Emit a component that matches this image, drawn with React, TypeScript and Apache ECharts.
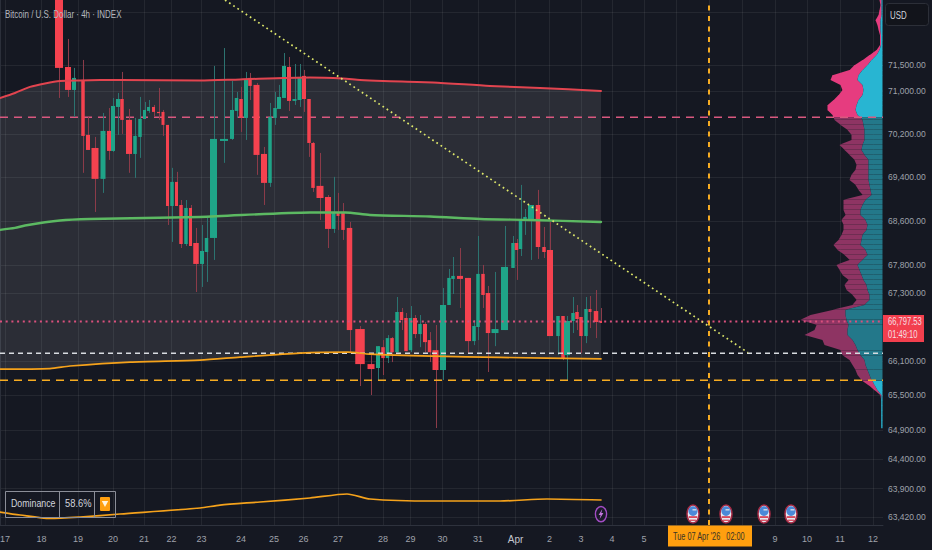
import React, { useEffect, useRef } from "react";
import * as echarts from "echarts";

const title = "Bitcoin / U.S. Dollar · 4h · INDEX";
const uiFont = "'Liberation Sans',sans-serif";

// Time scale (this chart's candles have uneven widths, so the scale runs on cumulative span units)
const scaleEnd = 883;
const dayTicks = [5, 41.5, 78, 113, 144, 171.5, 201.5, 241, 274, 303.5, 338, 383, 410.5, 442.5, 478, 515.5, 549.5, 581, 612, 644, 676, 709, 742, 775, 807, 840, 873];
const dayLabels = ["17", "18", "19", "20", "21", "22", "23", "24", "25", "26", "27", "28", "29", "30", "31", "Apr", "2", "3", "4", "5", "", "", "", "9", "10", "11", "12"];

// Price scale (logarithmic)
const priceMin = 63287;
const priceMax = 72744;
const priceGridLines = [72500, 71500, 71000, 70200, 69400, 68600, 67800, 67300, 66100, 65500, 64900, 64400, 63900, 63420];
const priceLabels = [71500, 71000, 70200, 69400, 68600, 67800, 67300, 66100, 65500, 64900, 64400, 63900, 63420];

// Candles
const candleTimes = [59, 68, 74, 83, 88, 95, 103, 109, 113, 118, 122, 129, 135, 140, 144.5, 148.5, 153.5, 158.5, 163, 167.5, 172, 176.5, 181, 186, 190.5, 196, 202, 206.5, 213.5, 224, 232, 236.5, 241, 246, 250, 256.5, 264, 270, 275, 279, 284, 289, 294.5, 299.5, 304, 309, 313, 320, 328, 333.5, 338, 343, 349.5, 360, 371, 378, 383, 387.5, 392, 397, 401.5, 406, 410.5, 415, 420, 425, 429.5, 435.5, 443, 449, 453, 460, 468, 474, 478, 483, 488, 495, 504.5, 513, 516.5, 520.5, 525, 531, 538, 544, 550, 558, 563, 567, 573, 577, 581, 586, 590, 596, 601];
const candleSpans = [8, 6, 4, 3.5, 4, 7, 5, 4, 4, 4, 3.5, 6, 3.5, 3.5, 3, 3, 3, 3, 3, 3, 3.5, 3, 3.5, 3.5, 3, 5.5, 4, 3.5, 7, 8, 4, 3.5, 3.5, 4, 3.5, 6, 6, 3.5, 3.5, 4, 4, 4, 4, 4, 4, 3.5, 3.5, 7, 6, 4, 3, 3.5, 5.5, 9.5, 7, 4, 3.5, 3.5, 3.5, 3.5, 3.5, 3.5, 3.5, 4, 3.5, 4, 3.5, 6, 6, 3.5, 3.5, 6, 6, 3.5, 3.5, 3.5, 4.5, 7, 7, 3.5, 3.5, 3.5, 3.5, 6, 4.5, 3.5, 6, 3.5, 3.5, 6, 3.5, 3.5, 3.5, 3.5, 3, 4.5, 2];
const candleOpens = [73500, 71463, 71029, 71218, 70187, 69944, 69373, 70261, 69889, 70709, 70859, 70467, 69833, 70149, 70485, 70634, 70709, 70616, 70616, 70373, 68876, 69317, 68894, 68185, 68840, 68203, 67825, 68040, 68294, 70074, 70112, 70634, 70859, 70504, 71256, 71124, 69833, 69299, 70504, 70672, 70878, 71464, 70822, 70840, 71294, 70859, 70037, 69244, 69040, 68458, 68767, 68748, 68476, 66664, 66047, 65978, 66344, 66152, 66504, 66256, 66966, 66859, 66291, 66859, 66575, 66753, 66469, 66291, 65943, 67090, 67556, 67610, 67574, 66451, 66700, 67646, 67304, 66593, 66646, 67753, 68203, 68094, 68621, 68639, 68894, 68130, 68076, 66540, 66895, 66204, 66806, 66966, 66877, 66540, 67019, 66983, 66806];
const candleCloses = [71445, 71029, 71256, 70168, 69907, 69373, 70261, 69889, 70728, 70859, 70467, 69833, 70168, 70485, 70653, 70709, 70616, 70597, 70373, 68876, 69317, 68876, 68185, 68840, 68149, 67825, 68058, 68294, 70112, 70112, 70653, 70878, 70504, 71237, 71105, 69815, 69299, 70523, 70690, 70897, 71483, 70822, 70859, 71275, 70859, 70037, 69207, 69022, 68458, 68767, 68694, 68440, 66646, 66047, 65960, 66362, 66152, 66504, 66256, 66966, 66824, 66274, 66859, 66575, 66753, 66433, 66256, 65943, 67090, 67574, 67610, 67556, 66451, 66717, 67646, 67269, 66593, 66664, 67771, 68203, 68076, 68639, 68676, 68894, 68130, 68040, 66540, 66895, 66152, 66806, 66948, 66841, 66540, 67019, 66966, 66788, 66771];
const candleLows = [70878, 70897, 70523, 69484, 69907, 68767, 69115, 69723, 69870, 70187, 70205, 69484, 69391, 69760, 70485, 70597, 70523, 70467, 70168, 68530, 68222, 68876, 68112, 68149, 68149, 67322, 67412, 67502, 67897, 69668, 70093, 70504, 70242, 70093, 70840, 69447, 68894, 69225, 70373, 70672, 70878, 70634, 70747, 70709, 70616, 69778, 69133, 68621, 68112, 68385, 68440, 68258, 66239, 65664, 65507, 65751, 65855, 66065, 66082, 66256, 66646, 66274, 66256, 66504, 66344, 66256, 66082, 64936, 65768, 67090, 67286, 67037, 66239, 66380, 66469, 67037, 65908, 66362, 66646, 67753, 67538, 67968, 68349, 67897, 67915, 67932, 66540, 66204, 66117, 65768, 66593, 66646, 66239, 66415, 66682, 66504, 66771];
const candleHighs = [74000, 71996, 71445, 71596, 70523, 70149, 70597, 70690, 70878, 70972, 71369, 70672, 70504, 70897, 70803, 70840, 70747, 71067, 70653, 70373, 69576, 69502, 68985, 68985, 68894, 68476, 68530, 68658, 71483, 71823, 71199, 70991, 71086, 71369, 71350, 71161, 69963, 70784, 70991, 71124, 71728, 71653, 71520, 71520, 71407, 70859, 70056, 69852, 69077, 69410, 69115, 68930, 68585, 66717, 66204, 66362, 66469, 66557, 66522, 67233, 67037, 66948, 67072, 66912, 66912, 66788, 66610, 66735, 67394, 67735, 67950, 68112, 67574, 66824, 68330, 67807, 67430, 67681, 68512, 68330, 68276, 69262, 68821, 68894, 69170, 68494, 68585, 66895, 66895, 66895, 67233, 67090, 66877, 67233, 67251, 67358, 67037];

// Moving bands
const upperTimes = [0, 15, 30, 45, 60, 80, 120, 200, 240, 310, 343, 360, 383, 433, 490, 540, 601];
const upperPrices = [70878, 70972, 71086, 71152, 71199, 71209, 71218, 71205, 71228, 71265, 71246, 71218, 71199, 71171, 71105, 71067, 71010];
const middleTimes = [0, 15, 25, 60, 90, 200, 310, 345, 370, 430, 480, 530, 601];
const middlePrices = [68440, 68476, 68521, 68612, 68639, 68676, 68758, 68758, 68712, 68685, 68639, 68621, 68585];
const lowerTimes = [0, 50, 70, 130, 200, 240, 300, 348, 370, 433, 500, 601];
const lowerPrices = [65960, 65969, 66013, 66082, 66117, 66169, 66239, 66256, 66221, 66187, 66164, 66140];
const dominanceTimes = [0, 20, 50, 80, 120, 200, 220, 260, 310, 347, 370, 433, 500, 547, 601];
const dominancePrices = [63505, 63455, 63396, 63421, 63472, 63573, 63623, 63674, 63742, 63810, 63725, 63691, 63691, 63725, 63708];

// Horizontal levels
const valueAreaHigh = 70514;
const lastPrice = 66797.53;
const pocPrice = 66239;
const valueAreaLow = 65765;
const trendTimes = [225, 748];
const trendPrices = [72744, 66248];

// Events
const cursorTime = 709;
const eventLevel = 63470;
const flagTimes = [693, 726, 764, 791];
const flashTimes = [601];

// Volume profile, one row per price level
const profileLevels = [72744, 72648, 72552, 72456, 72360, 72264, 72169, 72073, 71977, 71881, 71785, 71690, 71596, 71500, 71407, 71312, 71218, 71124, 71029, 70935, 70840, 70747, 70653, 70560, 70514, 70467, 70373, 70280, 70187, 70093, 70000, 69907, 69815, 69723, 69631, 69539, 69447, 69354, 69262, 69170, 69077, 68985, 68894, 68803, 68712, 68621, 68530, 68440, 68349, 68258, 68167, 68076, 67987, 67897, 67807, 67717, 67628, 67538, 67448, 67358, 67269, 67179, 67090, 67001, 66912, 66824, 66735, 66646, 66557, 66469, 66380, 66291, 66204, 66117, 66030, 65943, 65855, 65768, 65751, 65681, 65594, 65507, 65420, 65333, 65247, 65160, 65074, 64987, 64936];
const profileTotal = [3, 2, 3, 4, 7, 5, 4, 2.5, 2.5, 2.5, 6, 13, 20, 28, 33, 50, 52, 42, 40, 44, 49, 55, 55, 50, 49, 48, 42, 35, 31, 31, 43, 38, 33, 28, 26, 27, 31, 33, 27, 24, 20, 39, 39, 39, 37, 41, 39, 39, 41, 44, 49, 45, 38, 33, 46, 43, 40, 34, 38, 36, 30, 26, 30, 50, 72, 82, 66, 68, 78, 60, 58, 42, 40, 33, 30, 27, 25, 21, 20, 14, 8, 2, 1.3, 1.3, 1.3, 1.3, 1.3, 1.3, 1.3];
const profileUp = [1, 1, 1, 1, 2, 2, 2, 1.5, 1.5, 1.5, 3, 6, 11, 15, 20, 24, 25, 20, 19, 20, 24, 26, 27, 25, 22, 20, 19, 18, 18, 18, 20, 21, 18, 14, 14, 14, 14, 14, 13, 12, 11, 17, 20, 22, 22, 17, 15, 16, 20, 21, 22, 17, 15, 20, 25, 23, 21, 19, 16, 15, 13, 13, 18, 37, 37, 36, 34, 35, 35, 30, 27, 25, 22, 18, 17, 15, 13, 11, 10, 8, 5, 1, 1.3, 1.3, 1.3, 1.3, 1.3, 1.3, 1.3];

const toY = (p: number) => Math.log(p);
const zip = (xs: number[], ps: number[]) => xs.map((x, i) => [x, toY(ps[i])]);
const fmtPrice = (v: number) => {
  const r = Math.round(Math.exp(v) / 10) * 10;
  return r.toLocaleString("en-US") + ".00";
};

const C = {
  bg: "#151822",
  grid: "rgba(255,255,255,0.065)",
  up: "#1fa488",
  down: "#f5424f",
  upWick: "#2c7370",
  downWick: "#8b3b49",
  axisText: "#9fa2ab",
  orange: "#f5a21b",
};

const levelLine = (name: string, price: number, color: string, dash: number[], width: number, z: number) => ({
  type: "line", name, z, silent: true, symbol: "none",
  data: [[0, toY(price)], [scaleEnd, toY(price)]],
  lineStyle: { color, width, type: dash, cap: "butt" },
});

const curve = (name: string, xs: number[], ps: number[], color: string, width: number, z: number) => ({
  type: "line", name, z, silent: true, symbol: "none", smooth: 0.25, data: zip(xs, ps),
  lineStyle: { color, width, cap: "round", join: "round" },
});

const label = (x: number, y: number, text: string, fill: string, fontSize: number, scaleX: number) => ({
  type: "text", z: 101, x, y, scaleX, style: { text, fill, fontSize, fontFamily: uiFont },
});

function buildOption(): any {
  const candles = candleTimes.map((t, i) => [t, candleSpans[i], toY(candleOpens[i]), toY(candleCloses[i]), toY(candleLows[i]), toY(candleHighs[i])]);
  const last = profileLevels.length - 1;
  const profile = profileLevels.slice(0, last).map((l, i) => [toY(l), profileTotal[i], profileUp[i], toY(profileLevels[i + 1]), l, profileTotal[i + 1], profileUp[i + 1]]);
  return {
    animation: false,
    backgroundColor: C.bg,
    grid: { left: 0, right: 932 - scaleEnd, top: 0, bottom: 25, outerBoundsMode: "none" },
    textStyle: { fontFamily: uiFont },
    xAxis: {
      type: "value", min: 0, max: scaleEnd,
      axisLine: { show: true, lineStyle: { color: "#2e323d" } },
      axisTick: { show: false, customValues: dayTicks },
      splitLine: { show: true, lineStyle: { color: C.grid, width: 1 } },
      axisLabel: {
        customValues: dayTicks, margin: 9, fontSize: 9, color: C.axisText, fontFamily: uiFont, hideOverlap: false, showMinLabel: true, showMaxLabel: true,
        formatter: (v: number) => {
          const lab = dayLabels[dayTicks.indexOf(v)] ?? "";
          return lab === "Apr" ? "{b|Apr}" : lab;
        },
        rich: { b: { fontSize: 10, color: "#c3c6ce", fontFamily: uiFont } },
      },
    },
    yAxis: {
      type: "value", position: "right", min: toY(priceMin), max: toY(priceMax),
      axisLine: { show: true, lineStyle: { color: "#2b2f3a" } },
      axisTick: { show: false, customValues: priceGridLines.map(toY) },
      splitLine: { show: true, lineStyle: { color: C.grid, width: 1 } },
      axisLabel: { customValues: priceLabels.map(toY), margin: 5, fontSize: 8.5, color: C.axisText, fontFamily: uiFont, formatter: fmtPrice, showMinLabel: true, showMaxLabel: true },
    },
    graphic: [
      label(5, 9, title, "#b4b7bf", 10.5, 0.76),
      { type: "rect", z: 100, shape: { x: 885.5, y: 3.5, width: 43, height: 22, r: 3 }, style: { fill: "#12141b", stroke: "#2c2f38", lineWidth: 1 } },
      label(890, 10, "USD", "#d1d4dc", 10.5, 0.75),
      { type: "rect", z: 100, shape: { x: 883, y: 315, width: 41, height: 27 }, style: { fill: "#f33f4e" } },
      label(888, 317, "66,797.53", "#f6dfe2", 10, 0.76),
      label(888, 330, "01:49:10", "#f6dfe2", 10, 0.76),
      { type: "rect", z: 100, shape: { x: 668, y: 525.5, width: 84, height: 21 }, style: { fill: "#ff9f0f" } },
      label(673, 531, "Tue 07 Apr '26   02:00", "#3a3326", 10.5, 0.7),
      { type: "rect", z: 100, shape: { x: 5.5, y: 491.5, width: 110, height: 26 }, style: { fill: "rgba(0,0,0,0)", stroke: "#8b8e98", lineWidth: 1 } },
      { type: "line", z: 100, shape: { x1: 59.5, y1: 491.5, x2: 59.5, y2: 517.5 }, style: { stroke: "#8b8e98", lineWidth: 1 } },
      { type: "line", z: 100, shape: { x1: 94.5, y1: 491.5, x2: 94.5, y2: 517.5 }, style: { stroke: "#8b8e98", lineWidth: 1 } },
      label(11, 498, "Dominance", "#d1d4dc", 11, 0.8),
      label(65, 498, "58.6%", "#d1d4dc", 11, 0.85),
      { type: "rect", z: 100, shape: { x: 100, y: 497, width: 10, height: 14, r: 1 }, style: { fill: "#ff9f0f" } },
      { type: "polygon", z: 101, shape: { points: [[101.8, 501], [108.2, 501], [105, 507]] }, style: { fill: "#fff3dc" } },
    ],
    series: [
      {
        type: "custom", name: "band", z: 1, silent: true, coordinateSystem: "cartesian2d", clip: true,
        data: [[0, toY(upperPrices[0])]],
        encode: { x: 0, y: 1 },
        renderItem: (_p: any, api: any) => {
          const top = zip(upperTimes, upperPrices).map((d) => api.coord(d));
          const bot = zip(lowerTimes, lowerPrices).map((d) => api.coord(d)).reverse();
          return { type: "polygon", shape: { points: top.concat(bot) }, style: { fill: "rgba(255,255,255,0.095)" } };
        },
      },
      {
        type: "custom", name: "profile", z: 1, silent: true, coordinateSystem: "cartesian2d", clip: true,
        data: profile,
        encode: { x: 1, y: 0 },
        renderItem: (_p: any, api: any) => {
          const level = api.value(0), total = api.value(1), up = api.value(2), next = api.value(3), price = api.value(4), totalNext = api.value(5), upNext = api.value(6);
          const bright = price > valueAreaHigh || price < valueAreaLow;
          const pt = api.coord([scaleEnd - 0.5, level]);
          const pn = api.coord([scaleEnd - 0.5, next]);
          const right = pt[0];
          const y0 = pt[1];
          const y1 = bright ? pn[1] + 0.2 : pn[1] - 0.15;
          const pink = price < valueAreaLow ? "#c93a74" : bright ? "#e63c7f" : "#8e3463";
          const cyan = bright ? "#28b5d2" : "#23788a";
          return {
            type: "group",
            children: [
              { type: "polygon", shape: { points: [[right - total, y0], [right - up, y0], [right - upNext, y1], [right - totalNext, y1]] }, style: { fill: pink } },
              { type: "polygon", shape: { points: [[right - up, y0], [right, y0], [right, y1], [right - upNext, y1]] }, style: { fill: cyan } },
            ],
          };
        },
      },
      levelLine("value area high", valueAreaHigh, "#d9587f", [8, 6], 1.5, 2),
      {
        type: "custom", name: "candles", z: 3, silent: true, coordinateSystem: "cartesian2d", clip: true,
        data: candles,
        encode: { x: 0, y: [2, 3, 4, 5] },
        renderItem: (_p: any, api: any) => {
          const t = api.value(0), span = api.value(1), o = api.value(2), c = api.value(3), lo = api.value(4), hi = api.value(5);
          const up = c >= o;
          const w = api.size([span, 0])[0];
          const a = api.coord([t, Math.max(o, c)]);
          const b = api.coord([t, Math.min(o, c)]);
          const l = api.coord([t, lo]);
          const h = api.coord([t, hi]);
          const xw = Math.round(a[0]) + 0.5;
          return {
            type: "group",
            children: [
              { type: "line", shape: { x1: xw, y1: h[1], x2: xw, y2: l[1] }, style: { stroke: up ? C.upWick : C.downWick, lineWidth: 1 } },
              { type: "rect", shape: { x: a[0] - w / 2, y: a[1], width: w, height: Math.max(b[1] - a[1], 1.2) }, style: { fill: up ? C.up : C.down } },
            ],
          };
        },
      },
      levelLine("last price", lastPrice, "#d9507d", [2, 3.7], 2, 3.5),
      levelLine("poc", pocPrice, "#d8dbe0", [5, 4], 1.5, 3.5),
      levelLine("value area low", valueAreaLow, "#f7ac22", [8, 6], 1.5, 3.5),
      curve("upper", upperTimes, upperPrices, "#e2444f", 2, 4),
      curve("middle", middleTimes, middlePrices, "#5cb962", 2.4, 4),
      curve("lower", lowerTimes, lowerPrices, C.orange, 1.7, 4),
      curve("dominance", dominanceTimes, dominancePrices, C.orange, 1.7, 4),
      {
        type: "line", name: "trend", z: 5, silent: true, symbol: "none", data: zip(trendTimes, trendPrices),
        lineStyle: { color: "#dfe86b", width: 1.7, type: [1.7, 3.3], cap: "butt" },
      },
      {
        type: "line", name: "cursor", z: 5, silent: true, symbol: "none",
        data: [[cursorTime, toY(priceMin)], [cursorTime, toY(priceMax)]],
        lineStyle: { color: "#f7ac22", width: 2, type: [5, 5.5], cap: "butt" },
      },
      {
        type: "custom", name: "flags", z: 6, silent: true, coordinateSystem: "cartesian2d", clip: false,
        data: flagTimes.map((t) => [t, toY(eventLevel)]),
        encode: { x: 0, y: 1 },
        renderItem: (_p: any, api: any) => {
          const [cx, cy] = api.coord([api.value(0), api.value(1)]);
          return {
            type: "group",
            children: [
              { type: "ellipse", shape: { cx, cy, rx: 6, ry: 9 }, style: { fill: "#e7e9f0", stroke: "#a52a44", lineWidth: 1.5 } },
              { type: "ellipse", shape: { cx, cy: cy - 3, rx: 4.6, ry: 4.8 }, style: { fill: "#4b89d8" } },
              { type: "rect", shape: { x: cx - 0.5, y: cy - 5, width: 4, height: 1.4 }, style: { fill: "#d9dce6" } },
              { type: "rect", shape: { x: cx - 4.3, y: cy + 2, width: 8.6, height: 1.9 }, style: { fill: "#d84a5c" } },
              { type: "rect", shape: { x: cx - 3, y: cy + 5.5, width: 6, height: 1.3 }, style: { fill: "#d84a5c" } },
            ],
          };
        },
      },
      {
        type: "custom", name: "flash", z: 6, silent: true, coordinateSystem: "cartesian2d", clip: false,
        data: flashTimes.map((t) => [t, toY(eventLevel)]),
        encode: { x: 0, y: 1 },
        renderItem: (_p: any, api: any) => {
          const [cx, cy] = api.coord([api.value(0), api.value(1)]);
          return {
            type: "group",
            children: [
              { type: "ellipse", shape: { cx, cy, rx: 5.6, ry: 7.6 }, style: { fill: "#1a1a28", stroke: "#a24cc4", lineWidth: 1.4 } },
              { type: "polygon", shape: { points: [[cx + 1.3, cy - 5], [cx - 2.4, cy + 0.8], [cx - 0.4, cy + 0.8], [cx - 1.4, cy + 5], [cx + 2.4, cy - 1], [cx + 0.3, cy - 1]] }, style: { fill: "#c477e0" } },
            ],
          };
        },
      },
    ],
  };
}

export default function App() {
  const ref = useRef<HTMLDivElement>(null);
  useEffect(() => {
    document.body.style.margin = "0";
    document.body.style.background = C.bg;
    const chart = echarts.init(ref.current!, undefined, { renderer: "svg" });
    chart.setOption(buildOption());
    return () => chart.dispose();
  }, []);
  return <div ref={ref} style={{ width: 932, height: 550 }} />;
}
